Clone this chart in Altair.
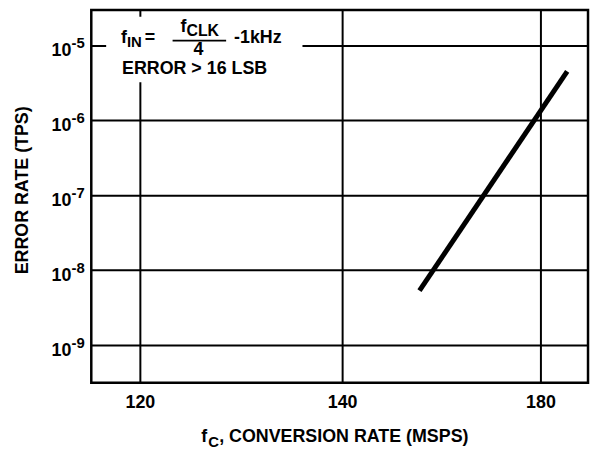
import altair as alt
import pandas as pd

FONT = "Liberation Sans"

# Data
rate_msps = [155.6, 185.4]
error_rate = [5.3e-9, 4.47e-6]
x_tick_values = [120, 140, 180]
y_exponents = [-5, -6, -7, -8, -9]

line_df = pd.DataFrame({"rate": rate_msps, "err": error_rate})
ylab_df = pd.DataFrame({
    "v": [10.0 ** e for e in y_exponents],
    "base": ["10"] * len(y_exponents),
    "sup": [str(e) for e in y_exponents],
})

xscale = alt.Scale(domain=[115.2, 120, 140, 180, 189.6],
                   range=[0, 49, 253, 453, 501], zero=False, nice=False)
yscale = alt.Scale(type="log", domain=[10 ** -9.503, 10 ** -4.530], nice=False)

yaxis = alt.Axis(values=[10.0 ** e for e in y_exponents], grid=True, gridColor="black",
                 gridWidth=2, gridOpacity=1, ticks=False, domain=False, labels=False,
                 title=None)

line = alt.Chart(line_df).mark_line(color="black", strokeWidth=5, strokeCap="butt").encode(
    x=alt.X("rate:Q", scale=xscale,
            axis=alt.Axis(values=x_tick_values, grid=True, gridColor="black", gridWidth=2,
                          gridOpacity=1, ticks=False, domain=False, labelFont=FONT,
                          labelFontSize=18, labelFontWeight="bold", labelColor="black",
                          labelPadding=11, title=None, labelFlush=False)),
    y=alt.Y("err:Q", scale=yscale, axis=yaxis),
)

box = alt.Chart(alt.Data(values=[{}])).mark_rect(fill="white").encode(
    x=alt.value(15), x2=alt.value(213), y=alt.value(7), y2=alt.value(73))


def txt(s, x, y, size=18, align="left", baseline="alphabetic", angle=0):
    return alt.Chart(alt.Data(values=[{}])).mark_text(
        font=FONT, fontWeight="bold", fontSize=size, align=align, baseline=baseline,
        color="black", angle=angle).encode(x=alt.value(x), y=alt.value(y), text=alt.value(s))


frac_bar = alt.Chart(alt.Data(values=[{}])).mark_rule(color="black", strokeWidth=2).encode(
    x=alt.value(82), x2=alt.value(136), y=alt.value(31))

ylab_base = alt.Chart(ylab_df).mark_text(
    font=FONT, fontWeight="bold", fontSize=18, align="right", baseline="alphabetic",
    dy=11, color="black").encode(
    y=alt.Y("v:Q", scale=yscale, axis=yaxis), x=alt.value(-20), text="base:N")
ylab_sup = alt.Chart(ylab_df).mark_text(
    font=FONT, fontWeight="bold", fontSize=15, align="left", baseline="alphabetic",
    dy=3, color="black").encode(
    y=alt.Y("v:Q", scale=yscale, axis=yaxis), x=alt.value(-20), text="sup:N")

chart = alt.layer(
    line, ylab_base, ylab_sup, box, frac_bar,
    txt("f", 30, 33), txt("IN", 36, 37, size=15), txt("=", 54, 33),
    txt("f", 90, 22), txt("CLK", 96, 26, size=16),
    txt("4", 108, 45, align="center"), txt("-1kHz", 144, 33),
    txt("ERROR > 16 LSB", 31, 65),
    txt("f", 111, 436), txt("C", 118, 441, size=15), txt(", CONVERSION RATE (MSPS)", 129, 436),
    txt("ERROR RATE (TPS)", -69, 182, align="center", baseline="middle", angle=270),
).properties(
    width=501, height=376,
    background="white",
    autosize=alt.AutoSizeParams(type="none"),
    padding={"left": 84, "top": 0, "right": 2, "bottom": 69},
).configure_view(stroke="black", strokeWidth=2.5)

chart.save("out.html", embed_options={"renderer": "svg", "actions": False})
